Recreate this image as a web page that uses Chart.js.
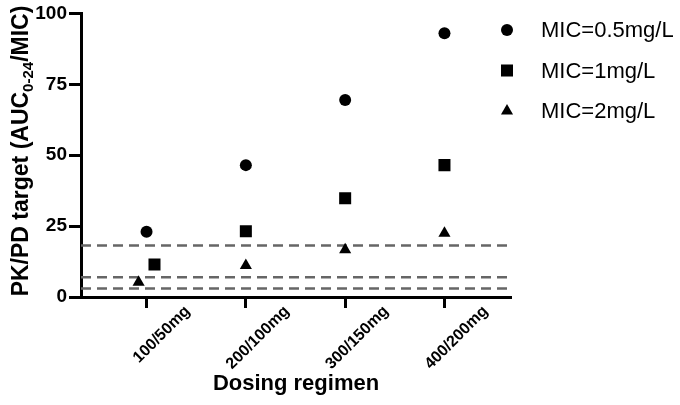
<!DOCTYPE html>
<html>
<head>
<meta charset="utf-8">
<script src="https://cdn.jsdelivr.net/npm/chart.js@4/dist/chart.umd.min.js"></script>
<style>
  html, body { margin: 0; padding: 0; background: #fff; }
</style>
</head>
<body>
<canvas id="myChart" width="680" height="405"></canvas>
<script>
const regimens = ["100/50mg", "200/100mg", "300/150mg", "400/200mg"];
const micLabels = ["MIC=0.5mg/L", "MIC=1mg/L", "MIC=2mg/L"];
const mic05 = [23, 46.5, 69.5, 93];
const mic1 = [11.5, 23.2, 34.8, 46.5];
const mic2 = [5.2, 11.1, 16.7, 22.5];
// sideways nudge of overlapping symbols (category units), like in the original figure
const mic05Nudge = [0, 0, 0, 0];
const mic1Nudge = [0.08, 0, 0, 0];
const mic2Nudge = [-0.08, 0, 0, 0];
const targetLines = [18.2, 7, 3];
const yTicks = [0, 25, 50, 75, 100];

const X_MIN = 0.34;
const X_MAX = 4.67;
const FONT = "'Liberation Sans', Arial, Helvetica, sans-serif";

function toPoints(values, nudge) {
  return values.map((v, i) => ({ x: i + 1 + nudge[i], y: v }));
}

const series = [
  { label: micLabels[0], data: toPoints(mic05, mic05Nudge), pointStyle: "circle", pointRadius: 6 },
  { label: micLabels[1], data: toPoints(mic1, mic1Nudge), pointStyle: "rect", pointRadius: 8.5 },
  { label: micLabels[2], data: toPoints(mic2, mic2Nudge), pointStyle: "triangle", pointRadius: 7 },
];

const scatterSets = series.map((s) => ({
  type: "scatter",
  label: s.label,
  data: s.data,
  pointStyle: s.pointStyle,
  pointRadius: s.pointRadius,
  backgroundColor: "#000",
  borderColor: "#000",
  borderWidth: 0,
  order: 0,
}));

// dashed PK/PD target lines across the whole plot
const lineSets = targetLines.map((t) => ({
  type: "line",
  data: [{ x: X_MIN, y: t }, { x: X_MAX, y: t }],
  borderColor: "#666",
  borderWidth: 2.5,
  borderDash: [10, 6],
  pointRadius: 0,
  order: 10,
}));

// legend on the right, drawn by hand so the spacing matches
const legendPlugin = {
  id: "micLegend",
  afterDraw(chart) {
    const ctx = chart.ctx;
    ctx.save();
    ctx.fillStyle = "#000";
    ctx.font = "22px " + FONT;
    ctx.textBaseline = "middle";
    series.forEach((s, i) => {
      const y = 30 + i * 40.5;
      Chart.helpers.drawPoint(ctx, { pointStyle: s.pointStyle, radius: s.pointRadius, rotation: 0, borderWidth: 0 }, 507, y);
      ctx.fillText(s.label, 541, y + 1);
    });
    ctx.restore();
  },
};

// y title with the subscript 0-24
const yTitlePlugin = {
  id: "yTitle",
  afterDraw(chart) {
    const ctx = chart.ctx;
    const main = "PK/PD target (AUC";
    const sub = "0-24";
    const tail = "/MIC)";
    const big = "bold 23px " + FONT;
    const small = "bold 15px " + FONT;
    ctx.save();
    ctx.fillStyle = "#000";
    ctx.font = big;
    const w1 = ctx.measureText(main).width;
    const w3 = ctx.measureText(tail).width;
    ctx.font = small;
    const w2 = ctx.measureText(sub).width;
    ctx.translate(28, 151);
    ctx.rotate(-Math.PI / 2);
    ctx.textBaseline = "alphabetic";
    let x = -(w1 + w2 + w3) / 2;
    ctx.font = big;
    ctx.fillText(main, x, 0);
    x += w1;
    ctx.font = small;
    ctx.fillText(sub, x, 5);
    x += w2;
    ctx.font = big;
    ctx.fillText(tail, x, 0);
    ctx.restore();
  },
};

new Chart(document.getElementById("myChart"), {
  type: "scatter",
  data: { datasets: [...scatterSets, ...lineSets] },
  options: {
    responsive: false,
    animation: false,
    events: [],
    layout: { padding: { top: 11, right: 169, left: 0, bottom: 0 } },
    plugins: {
      legend: { display: false },
      tooltip: { enabled: false },
    },
    scales: {
      x: {
        type: "linear",
        min: X_MIN,
        max: X_MAX,
        afterBuildTicks: (s) => { s.ticks = regimens.map((_, i) => ({ value: i + 1 })); },
        afterFit: (s) => { s.height = 108; },
        border: { color: "#000", width: 3 },
        grid: { drawOnChartArea: false, tickLength: 11, tickWidth: 3, tickColor: "#000" },
        ticks: {
          callback: (v) => regimens[v - 1],
          autoSkip: false,
          minRotation: 45,
          maxRotation: 45,
          labelOffset: 41,
          padding: -6,
          color: "#000",
          font: { family: FONT, size: 16, weight: "bold" },
        },
        title: {
          display: true,
          text: "Dosing regimen",
          color: "#000",
          font: { family: FONT, size: 22, weight: "bold" },
          padding: { top: 4, bottom: 8 },
        },
      },
      y: {
        min: 0,
        max: 100,
        afterBuildTicks: (s) => { s.ticks = yTicks.map((v) => ({ value: v })); },
        afterFit: (s) => { s.width = 81; },
        border: { color: "#000", width: 3 },
        grid: { drawOnChartArea: false, tickLength: 12, tickWidth: 3, tickColor: "#000" },
        ticks: {
          padding: 2,
          color: "#000",
          font: { family: FONT, size: 19, weight: "bold" },
        },
      },
    },
  },
  plugins: [legendPlugin, yTitlePlugin],
});
</script>
</body>
</html>
